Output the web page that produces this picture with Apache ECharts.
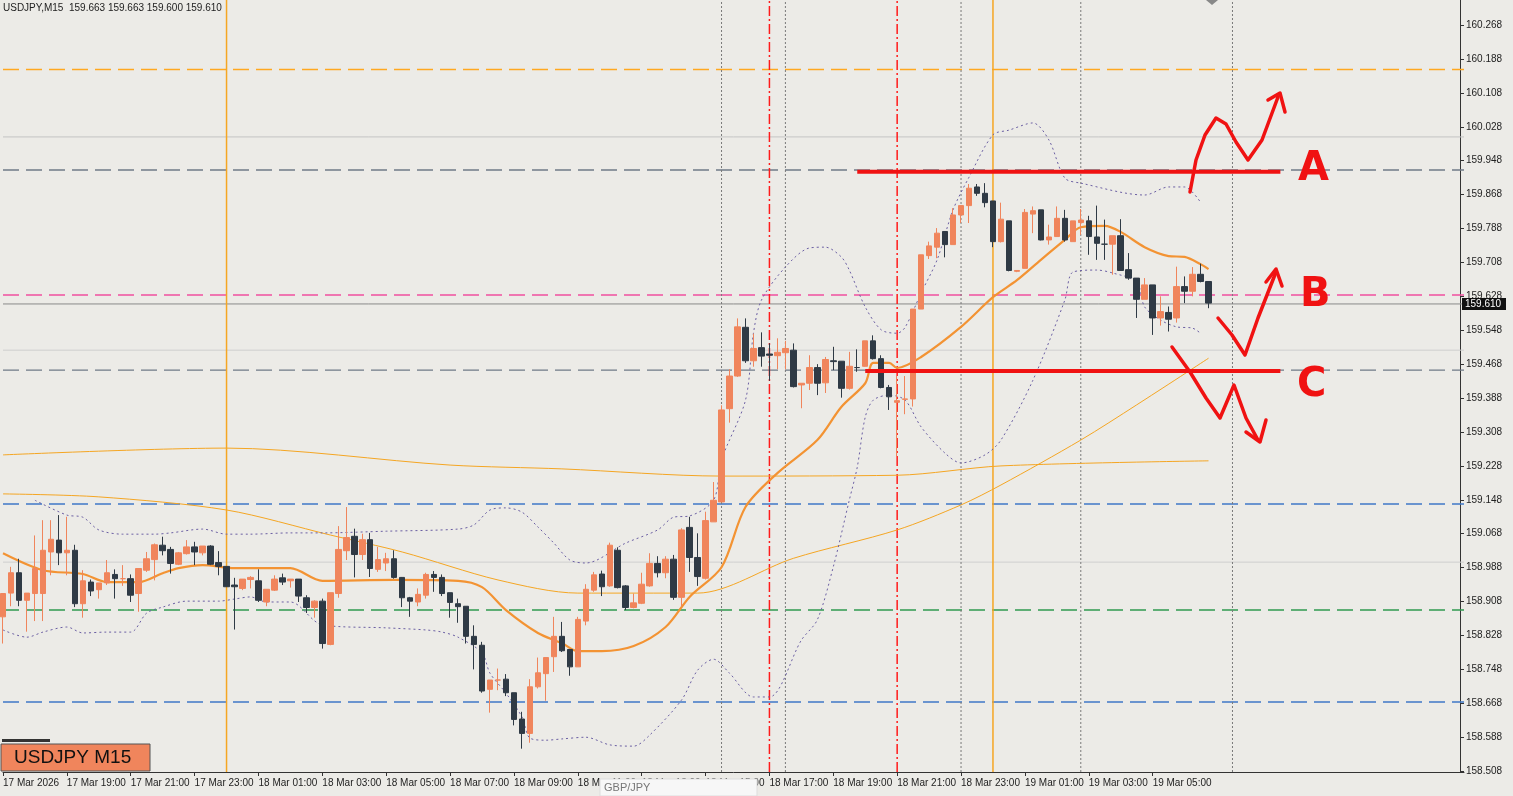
<!DOCTYPE html>
<html>
<head>
<meta charset="utf-8">
<script src="https://cdn.jsdelivr.net/npm/echarts@6/dist/echarts.min.js"></script>
<style>
  html, body { margin: 0; padding: 0; background: #ecebe7; }
  #chart { width: 1513px; height: 796px; }
</style>
</head>
<body>
<div id="chart"></div>
<script>
// USDJPY M15 candles: [open, close, low, high]
const candles = [
  [158.872,158.927,158.809,158.927],[158.928,158.976,158.897,158.990],[158.976,158.911,158.897,159.009],[158.911,158.928,158.837,158.928],
  [158.927,158.986,158.862,159.064],[158.927,159.029,158.862,159.100],[159.025,159.055,158.970,159.100],[159.053,159.023,158.994,159.112],
  [159.023,159.029,158.970,159.108],[159.029,158.903,158.895,159.042],[158.903,158.957,158.870,158.982],[158.954,158.933,158.921,158.960],
  [158.936,158.952,158.915,158.952],[158.952,158.976,158.947,159.006],[158.972,158.962,158.915,158.984],[158.962,158.962,158.945,158.994],
  [158.962,158.923,158.907,158.972],[158.927,158.986,158.884,158.986],[158.982,159.009,158.978,159.025],[159.007,159.042,158.958,159.045],
  [159.041,159.028,159.017,159.061],[159.031,158.998,158.974,159.037],[158.996,159.023,158.994,159.025],[159.021,159.037,159.019,159.053],
  [159.037,159.025,158.994,159.049],[159.023,159.039,159.017,159.039],[159.039,158.996,158.994,159.041],[159.000,158.991,158.970,159.027],
  [158.991,158.943,158.943,158.991],[158.947,158.943,158.842,158.964],[158.939,158.961,158.935,158.961],[158.960,158.965,158.939,158.968],
  [158.957,158.911,158.907,158.984],[158.907,158.937,158.897,158.937],[158.935,158.961,158.933,158.970],[158.964,158.954,158.947,158.974],
  [158.957,158.961,158.941,158.961],[158.961,158.921,158.907,158.961],[158.917,158.894,158.881,158.923],[158.894,158.909,158.870,158.911],
  [158.909,158.809,158.797,158.915],[158.807,158.929,158.805,158.929],[158.927,159.031,158.917,159.086],[159.028,159.059,159.006,159.131],
  [159.062,159.019,158.965,159.080],[159.019,159.054,159.006,159.068],[159.054,158.986,158.966,159.070],[158.984,159.007,158.978,159.037],
  [158.999,159.009,158.980,159.023],[159.009,158.965,158.962,159.029],[158.965,158.917,158.895,158.966],[158.917,158.909,158.872,158.919],
  [158.907,158.925,158.897,158.939],[158.923,158.972,158.915,158.976],[158.972,158.965,158.931,158.980],[158.965,158.927,158.921,158.972],
  [158.929,158.906,158.870,158.929],[158.903,158.896,158.858,158.915],[158.897,158.826,158.809,158.897],[158.826,158.807,158.748,158.852],
  [158.805,158.697,158.693,158.813],[158.701,158.723,158.646,158.723],[158.723,158.723,158.699,158.750],[158.725,158.693,158.685,158.737],
  [158.693,158.630,158.616,158.693],[158.631,158.597,158.561,158.648],[158.597,158.707,158.575,158.725],[158.707,158.740,158.703,158.776],
  [158.738,158.776,158.674,158.776],[158.778,158.826,158.742,158.872],[158.826,158.792,158.789,158.860],[158.795,158.754,158.733,158.795],
  [158.754,158.866,158.754,158.872],[158.862,158.937,158.852,158.949],[158.935,158.971,158.931,158.978],[158.973,158.943,158.921,158.981],
  [158.945,159.041,158.943,159.047],[159.029,158.941,158.939,159.036],[158.945,158.894,158.888,158.947],[158.894,158.905,158.892,158.927],
  [158.904,158.949,158.902,158.976],[158.945,158.998,158.943,159.022],[158.998,158.976,158.965,159.015],[158.976,159.008,158.963,159.015],
  [159.008,158.918,158.912,159.018],[158.918,159.077,158.896,159.081],[159.083,159.012,158.978,159.108],[159.012,158.967,158.945,159.069],
  [158.963,159.099,158.960,159.120],[159.096,159.147,159.096,159.190],[159.143,159.360,159.143,159.371],[159.363,159.440,159.330,159.456],
  [159.440,159.556,159.438,159.576],[159.555,159.476,159.471,159.576],[159.476,159.505,159.462,159.540],[159.507,159.487,159.462,159.543],
  [159.492,159.489,159.429,159.517],[159.488,159.496,159.456,159.529],[159.495,159.505,159.456,159.523],[159.501,159.415,159.413,159.517],
  [159.419,159.423,159.364,159.423],[159.423,159.460,159.407,159.489],[159.460,159.423,159.395,159.468],[159.424,159.479,159.400,159.485],
  [159.476,159.474,159.454,159.509],[159.475,159.411,159.389,159.475],[159.411,159.463,159.408,159.497],[159.460,159.460,159.450,159.503],
  [159.463,159.523,159.462,159.523],[159.523,159.481,159.479,159.536],[159.481,159.413,159.411,159.489],[159.413,159.391,159.360,159.419],
  [159.378,159.382,159.250,159.440],[159.385,159.386,159.350,159.440],[159.386,159.598,159.368,159.598],[159.598,159.726,159.598,159.726],
  [159.724,159.747,159.716,159.757],[159.744,159.777,159.718,159.789],[159.781,159.750,159.720,159.781],[159.750,159.820,159.750,159.836],
  [159.820,159.842,159.801,159.842],[159.842,159.883,159.801,159.893],[159.886,159.871,159.865,159.893],[159.871,159.849,159.838,159.895],
  [159.853,159.757,159.744,159.853],[159.757,159.810,159.755,159.849],[159.806,159.689,159.687,159.806],[159.687,159.689,159.685,159.690],
  [159.694,159.826,159.694,159.834],[159.822,159.830,159.777,159.840],[159.832,159.761,159.760,159.832],[159.761,159.768,159.750,159.797],
  [159.769,159.812,159.769,159.840],[159.812,159.761,159.757,159.832],[159.757,159.806,159.757,159.806],[159.802,159.808,159.773,159.834],
  [159.806,159.769,159.726,159.818],[159.768,159.753,159.714,159.842],[159.751,159.751,159.714,159.809],[159.751,159.771,159.679,159.771],
  [159.771,159.689,159.689,159.810],[159.691,159.671,159.667,159.730],[159.671,159.621,159.577,159.671],[159.621,159.655,159.621,159.671],
  [159.655,159.577,159.537,159.655],[159.577,159.592,159.559,159.628],[159.590,159.574,159.545,159.604],[159.577,159.651,159.566,159.698],
  [159.651,159.640,159.612,159.675],[159.640,159.680,159.628,159.697],[159.680,159.663,159.661,159.705],[159.663,159.612,159.600,159.663]
];

// indicator lines: [candle index, price]
const ma20 = [[0,159.022],[5,158.982],[10,158.973],[13,158.954],[17,158.954],[20,158.975],[22,158.987],[25,158.994],[29,158.987],
  [36,158.987],[40,158.957],[49,158.959],[57,158.957],[60,158.942],[63,158.888],[67,158.834],[70,158.810],[72,158.791],[75,158.791],
  [79,158.803],[83,158.848],[86,158.919],[90,158.989],[93,159.131],[97,159.211],[102,159.289],[105,159.367],[108,159.423],[109,159.471],
  [111,159.471],[112,159.459],[115,159.485],[120,159.556],[124,159.626],[127,159.666],[130,159.714],[133,159.761],[135,159.791],
  [138,159.794],[140,159.780],[143,159.744],[146,159.723],[148,159.721],[150,159.704],[151,159.692]];
const maSlow = [[0,159.254],[28,159.270],[56,159.230],[70,159.221],[90,159.204],[112,159.206],[125,159.228],[151,159.240]];
const maMid = [[0,159.162],[12,159.155],[28,159.124],[41,159.065],[50,159.025],[62,158.959],[72,158.928],[87,158.928],[99,159.010],
  [112,159.077],[120,159.136],[125,159.183],[135,159.289],[142,159.372],[151,159.482]];
const bbUpper = [[4,159.147],[8,159.112],[10,159.107],[12,159.077],[15,159.067],[19,159.067],[21,159.070],[25,159.079],[28,159.067],
  [31,159.067],[36,159.070],[40,159.070],[48,159.074],[57,159.079],[59,159.089],[61,159.124],[63,159.129],[65,159.119],[67,159.084],
  [69,159.046],[71,159.006],[73,158.999],[78,159.046],[82,159.077],[84,159.107],[86,159.110],[89,159.147],[90,159.242],[93,159.383],
  [94,159.541],[95,159.619],[98,159.697],[101,159.742],[103,159.744],[105,159.721],[106,159.690],[108,159.603],[110,159.549],
  [112,159.541],[113,159.555],[115,159.636],[117,159.714],[119,159.832],[121,159.909],[124,160.009],[126,160.020],[129,160.037],
  [131,159.997],[133,159.907],[135,159.895],[143,159.867],[146,159.886],[148,159.886],[150,159.850]];
const bbLower = [[0,158.841],[3,158.824],[5,158.836],[8,158.848],[10,158.834],[13,158.836],[16,158.836],[18,158.881],[20,158.895],
  [23,158.909],[27,158.909],[29,158.914],[31,158.919],[33,158.907],[36,158.907],[40,158.853],[48,158.846],[53,158.841],[55,158.836],
  [57,158.824],[60,158.787],[61,158.739],[63,158.692],[65,158.636],[66,158.586],[68,158.581],[70,158.584],[73,158.588],[76,158.570],
  [79,158.567],[81,158.593],[85,158.676],[87,158.746],[89,158.772],[91,158.739],[94,158.683],[96,158.683],[100,158.817],[102,158.865],
  [104,158.990],[106,159.147],[107,159.225],[108,159.343],[109,159.383],[111,159.395],[113,159.383],[115,159.320],[118,159.258],
  [120,159.235],[123,159.254],[125,159.289],[129,159.430],[133,159.619],[134,159.685],[137,159.690],[139,159.683],[142,159.662],
  [143,159.603],[145,159.572],[147,159.556],[149,159.553],[150,159.541]];

// time axis labels at candle indices
const tickIdx = [0, 8, 16, 24, 32, 40, 48, 56, 64, 72, 80, 88, 96, 104, 112, 120, 128, 136, 144];
const tickText = ['17 Mar 2026','17 Mar 19:00','17 Mar 21:00','17 Mar 23:00','18 Mar 01:00','18 Mar 03:00','18 Mar 05:00',
  '18 Mar 07:00','18 Mar 09:00','18 Mar 11:00','18 Mar 13:00','18 Mar 15:00','18 Mar 17:00','18 Mar 19:00','18 Mar 21:00',
  '18 Mar 23:00','19 Mar 01:00','19 Mar 03:00','19 Mar 05:00'];
const priceTicks = [158.508,158.588,158.668,158.748,158.828,158.908,158.988,159.068,159.148,159.228,159.308,159.388,159.468,
  159.548,159.628,159.708,159.788,159.868,159.948,160.028,160.108,160.188,160.268];

// horizontal levels [price, colour, dash]
const DASH = [16, 7], DOT = [2, 2], DASHDOT = [10, 3, 2, 3];
const hLevels = [[160.163,'#ffa820',DASH],[160.004,'#c4c4c4',null],[159.926,'#6f7b88',DASH],[159.631,'#f050a0',DASH],
  [159.610,'#8a8a8a',null],[159.501,'#cfcfcf',null],[159.454,'#6f7b88',DASH],[159.138,'#3f78c8',DASH],
  [159.001,'#cfcfcf',null],[158.888,'#2f9a50',DASH],[158.671,'#3f78c8',DASH]];
// vertical lines [candle index, colour, dash, width]
const vLevels = [[28,'#f5a623',null,1.5],[124,'#f5a623',null,1.5],[90,'#7a7a7a',DOT,1],[98,'#7a7a7a',DOT,1],
  [120,'#7a7a7a',DOT,1],[135,'#7a7a7a',DOT,1],[154,'#7a7a7a',DOT,1],[96,'#ff1a1a',DASHDOT,1.5],[112,'#ff1a1a',DASHDOT,1.5]];
// drawn levels A and C
const levelA = 159.922, levelC = 159.452;

const Y_MIN = 158.506, Y_MAX = 160.327;
// category k sits at x = 8k (boundaryGap false)
const nCats = 184;
const cats = [];
for (let i = 0; i < nCats; i++) cats.push(String(i));
const tickMap = {};
tickIdx.forEach((k, j) => { tickMap[k] = tickText[j]; });

const RED = '#f01212';
const FONT = 'Tahoma, "Liberation Sans", sans-serif';
const chart = echarts.init(document.getElementById('chart'));

const lineSeries = (data, color, width, type, z, smooth = 0.3) => ({
  type: 'line', data, symbol: 'none', smooth, silent: true, z,
  lineStyle: { color, width, type: type || 'solid', opacity: 1 }
});

chart.setOption({
  animation: false,
  backgroundColor: '#ecebe7',
  grid: { left: 0, right: 49, top: 0, bottom: 24 },
  xAxis: {
    type: 'category', data: cats, boundaryGap: false,
    axisLine: { lineStyle: { color: '#333' } },
    axisTick: { interval: (i) => tickMap[i] !== undefined, length: 4, lineStyle: { color: '#333' } },
    axisLabel: {
      interval: (i) => tickMap[i] !== undefined, formatter: (v) => tickMap[v] || '', hideOverlap: false,
      align: 'left', fontSize: 10, color: '#222', fontFamily: FONT, margin: 6
    },
    splitLine: { show: false }
  },
  yAxis: {
    type: 'value', position: 'right', offset: -4, min: Y_MIN, max: Y_MAX, scale: true,
    axisLine: { show: true, lineStyle: { color: '#333' } },
    axisTick: { show: true, customValues: priceTicks, length: 4, lineStyle: { color: '#333' } },
    axisLabel: { customValues: priceTicks, formatter: (v) => v.toFixed(3), fontSize: 10, color: '#222', margin: 6, fontFamily: FONT },
    splitLine: { show: false }
  },
  series: [
    ...hLevels.map(([p, c, d]) => lineSeries([[0, p], [nCats - 1, p]], c, d ? 1.4 : 1, d, 1, false)),
    ...vLevels.map(([k, c, d, w]) => lineSeries([[k, Y_MIN], [k, Y_MAX]], c, w, d, 1, false)),
    {
      type: 'candlestick', data: candles, barWidth: 6, z: 5,
      itemStyle: { color: '#f0855c', color0: '#2f3a45', borderColor: '#f0855c', borderColor0: '#2f3a45', borderWidth: 1 }
    },
    lineSeries(maSlow, '#f5a623', 1, null, 3),
    lineSeries(maMid, '#f5a623', 1, null, 3),
    lineSeries(ma20, '#f39333', 2.2, null, 4),
    lineSeries(bbUpper, '#6b5fa3', 1, [2, 3], 3),
    lineSeries(bbLower, '#6b5fa3', 1, [2, 3], 3),
    lineSeries([[107, levelA], [160, levelA]], RED, 4, null, 6, false),
    lineSeries([[108, levelC], [160, levelC]], RED, 4, null, 6, false)
  ]
});

// annotations drawn by hand on the original
const lastY = chart.convertToPixel({ yAxisIndex: 0 }, 159.610);
const pl = (pts) => ({ type: 'polyline', z: 20, shape: { points: pts }, style: { stroke: RED, lineWidth: 3.5, fill: null, lineJoin: 'round', lineCap: 'round' } });
chart.setOption({
  graphic: [
    { type: 'text', left: 3, top: 3, style: { text: 'USDJPY,M15  159.663 159.663 159.600 159.610', fontSize: 10, fill: '#222', fontFamily: FONT } },
    { type: 'polygon', shape: { points: [[1206, 0], [1218, 0], [1212, 5]] }, style: { fill: '#888' } },
    { type: 'rect', z: 50, shape: { x: 2, y: 739, width: 48, height: 3 }, style: { fill: '#333' } },
    { type: 'rect', z: 50, shape: { x: 1, y: 744, width: 149, height: 27 }, style: { fill: '#f0855c', stroke: '#555', lineWidth: 1 } },
    { type: 'text', z: 51, left: 14, top: 748, style: { text: 'USDJPY M15', fontSize: 19, fill: '#111', fontFamily: FONT } },
    { type: 'rect', z: 50, shape: { x: 600, y: 779, width: 157, height: 17 }, style: { fill: '#f7f7f7', stroke: '#ddd' } },
    { type: 'text', z: 51, left: 604, top: 782, style: { text: 'GBP/JPY', fontSize: 11, fill: '#777', fontFamily: FONT } },
    { type: 'rect', z: 50, shape: { x: 1462, y: lastY - 6, width: 44, height: 12 }, style: { fill: '#111' } },
    { type: 'text', z: 51, left: 1465, top: lastY - 5, style: { text: '159.610', fontSize: 10, fill: '#fff', fontFamily: FONT } },
    pl([[1190, 192], [1196, 160], [1205, 135], [1216, 118], [1226, 124], [1236, 142], [1248, 160], [1262, 140], [1278, 97]]),
    pl([[1268, 100], [1280, 93], [1285, 112]]),
    pl([[1218, 318], [1232, 335], [1245, 355], [1258, 318], [1276, 272]]),
    pl([[1266, 282], [1276, 269], [1282, 286]]),
    pl([[1172, 347], [1190, 372], [1206, 398], [1220, 418], [1234, 385], [1246, 418], [1258, 440]]),
    pl([[1246, 432], [1260, 442], [1266, 420]]),
    { type: 'text', z: 20, left: 1298, top: 150, style: { text: 'A', fontSize: 40, fontWeight: 'bold', fill: RED, fontFamily: 'DejaVu Sans, sans-serif' } },
    { type: 'text', z: 20, left: 1300, top: 276, style: { text: 'B', fontSize: 40, fontWeight: 'bold', fill: RED, fontFamily: 'DejaVu Sans, sans-serif' } },
    { type: 'text', z: 20, left: 1297, top: 366, style: { text: 'C', fontSize: 40, fontWeight: 'bold', fill: RED, fontFamily: 'DejaVu Sans, sans-serif' } }
  ]
});
</script>
</body>
</html>
